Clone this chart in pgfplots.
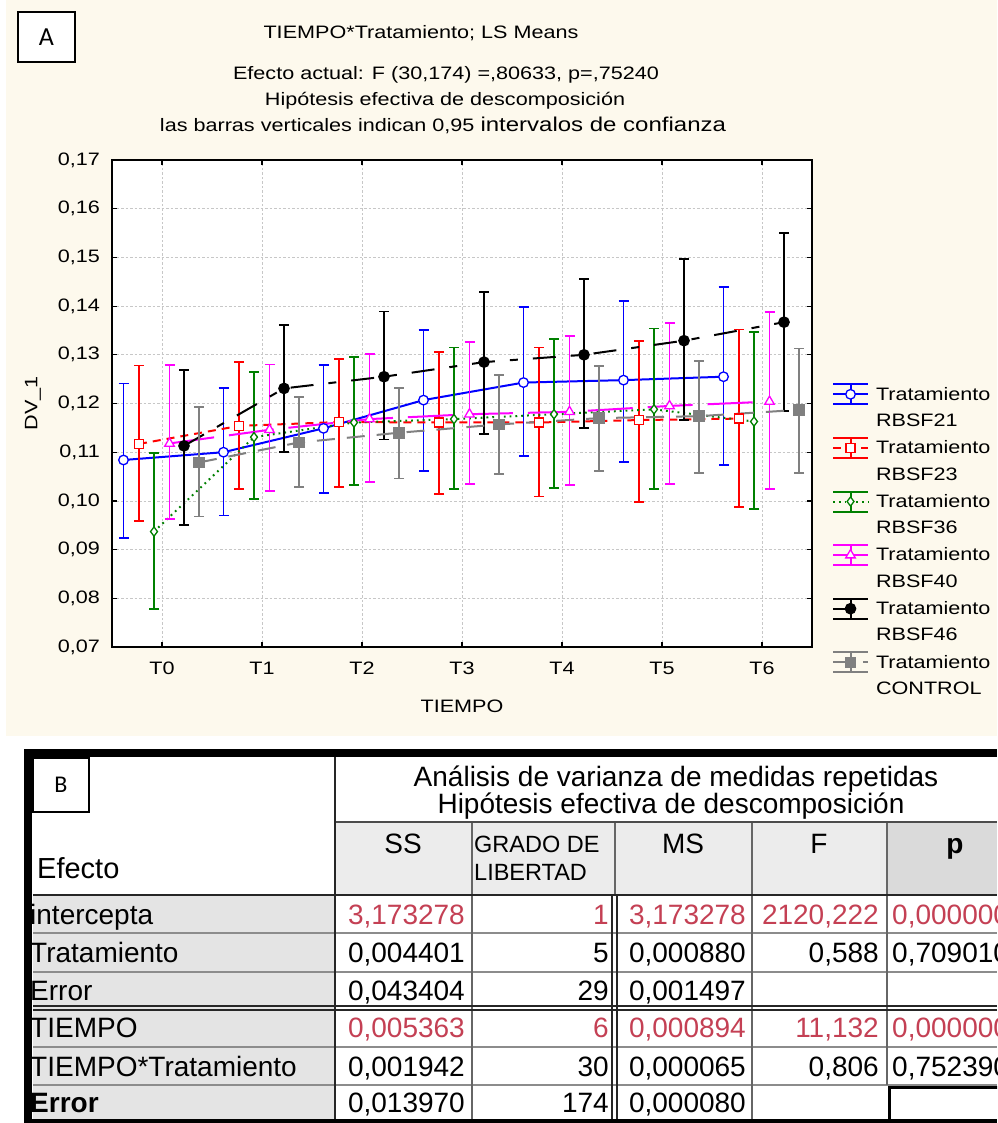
\documentclass[border=0pt]{standalone}
\usepackage{pgfplots}
\pgfplotsset{compat=1.18}
\usepackage{fontspec}
\setmainfont{Liberation Sans}
\newfontfamily\wfont[FakeStretch=1.2]{Liberation Sans}
\newfontfamily\calib{Carlito}
\definecolor{cream}{RGB}{253,249,237}
\definecolor{tred}{RGB}{196,64,84}
\definecolor{hdr}{RGB}{236,236,236}
\definecolor{phdr}{RGB}{218,218,218}
\definecolor{rowg}{RGB}{228,228,228}
\definecolor{dgreen}{RGB}{0,128,0}
\definecolor{mgray}{RGB}{128,128,128}
\definecolor{mag}{RGB}{255,0,255}
\definecolor{pblue}{RGB}{0,0,255}
\definecolor{pred}{RGB}{255,0,0}
\newcommand\cf{\wfont\fontsize{18}{26.5}\selectfont}
\newcommand\tf{\fontsize{28}{30}\selectfont}
\pgfplotsset{
 eb/.style={error bars/.cd, y dir=both, y explicit, error bar style={solid, line width=1.9pt}, error mark options={solid, rotate=90, line width=1.9pt, mark size=5pt}}
}
\begin{document}
\begin{tikzpicture}
\path[use as bounding box] (0pt,0pt) rectangle (997pt,-1123pt);
\clip (0pt,0pt) rectangle (997pt,-1123pt);
\begin{scope}[x=1pt,y=-1pt]
 \fill[white] (0,0) rectangle (997,1123);
 \fill[cream] (6,0) rectangle (997,736);
 \draw[line width=1.5pt, fill=white] (18,12) rectangle (75,62);
 \node[font=\calib\fontsize{26}{28}\selectfont, inner sep=0] at (46.5,37) {A};
 \node[anchor=base, font=\cf, inner sep=0] at (421,38.5) {TIEMPO*Tratamiento; LS Means};
 \node[anchor=base, font=\cf, inner sep=0] at (446,79.5) {Efecto actual: F (30,174) =,80633, p=,75240};
 \node[anchor=base, font=\cf, inner sep=0] at (445,105.5) {Hipótesis efectiva de descomposición};
 \node[anchor=base, font=\cf, inner sep=0] at (443,131.5) {las barras verticales indican 0,95 {\fontsize{20}{22}\selectfont intervalos de confianza}};
\end{scope}
\begin{axis}[
 at={(112pt,-647pt)}, anchor=south west,
 scale only axis, width=700pt, height=487pt,
 xmin=-0.5, xmax=6.5, ymin=0.07, ymax=0.17,
 xtick={0,1,2,3,4,5,6}, xticklabels={T0,T1,T2,T3,T4,T5,T6},
 ytick={0.07,0.08,0.09,0.10,0.11,0.12,0.13,0.14,0.15,0.16,0.17},
 yticklabels={{0,07},{0,08},{0,09},{0,10},{0,11},{0,12},{0,13},{0,14},{0,15},{0,16},{0,17}},
 tick label style={font=\cf, inner sep=0pt},
 xticklabel style={anchor=center, yshift=-21pt},
 yticklabel style={anchor=east, xshift=-12pt},
 xlabel={TIEMPO}, ylabel={DV\_1}, label style={font=\cf},
 xlabel style={at={(axis description cs:0.5,-0.121)}, anchor=center},
 ylabel style={at={(axis description cs:-0.113,0.5)}, anchor=center},
 grid=major, grid style={dash pattern=on 2.5pt off 2pt, draw=black!22, line width=0.8pt},
 axis line style={line width=2pt},
 tick style={black, line width=1.2pt}, major tick length=5pt, tick align=inside,
 axis background/.style={fill=white},
 legend cell align=left,
 legend style={at={(1.024,0.546)}, anchor=north west, draw=none, fill=none, font=\cf, row sep=31.6pt, column sep=5pt},
 legend image code/.code={
   \draw[#1, mark=none] (0pt,0pt) -- (35pt,0pt);
   \draw[#1, solid, mark=none] (0pt,10pt) -- (35pt,10pt) (0pt,-10pt) -- (35pt,-10pt) (17.5pt,-10pt) -- (17.5pt,10pt);
   \draw[#1, only marks] plot coordinates {(17.5pt,0pt)};
 },
]
\addplot[pblue, line width=2pt, mark=*, mark size=4.8pt, mark options={solid, fill=white, line width=1.3pt}, eb]
 coordinates {
 (-0.385,0.1084) += (0,0.0157) -= (0,0.0161)
 (0.615,0.1100) += (0,0.0131) -= (0,0.0130)
 (1.615,0.1149) += (0,0.0130) -= (0,0.0132)
 (2.615,0.1207) += (0,0.0144) -= (0,0.0146)
 (3.615,0.1243) += (0,0.0155) -= (0,0.0151)
 (4.615,0.1248) += (0,0.0162) -= (0,0.0168)
 (5.615,0.1255) += (0,0.0184) -= (0,0.0181)
 };
\addlegendentry{\parbox[t]{125pt}{Tratamiento\\RBSF21}}
\addplot[pred, line width=2pt, dash pattern=on 8pt off 6pt, mark=square*, mark size=4.5pt, mark options={solid, fill=white, line width=1.3pt}, eb]
 coordinates {
 (-0.23,0.1117) += (0,0.0161) -= (0,0.0158)
 (0.77,0.1154) += (0,0.0131) -= (0,0.0130)
 (1.77,0.1162) += (0,0.0129) -= (0,0.0133)
 (2.77,0.1161) += (0,0.0145) -= (0,0.0146)
 (3.77,0.1161) += (0,0.0154) -= (0,0.0152)
 (4.77,0.1166) += (0,0.0163) -= (0,0.0168)
 (5.77,0.1169) += (0,0.0183) -= (0,0.0181)
 };
\addlegendentry{\parbox[t]{125pt}{Tratamiento\\RBSF23}}
\addplot[dgreen, line width=2pt, dash pattern=on 1.8pt off 4pt, mark=diamond*, mark size=4.6pt, mark options={solid, fill=white, line width=1.3pt}, eb]
 coordinates {
 (-0.08,0.0937) += (0,0.0162) -= (0,0.0159)
 (0.92,0.1131) += (0,0.0134) -= (0,0.0127)
 (1.92,0.1161) += (0,0.0135) -= (0,0.0128)
 (2.92,0.1168) += (0,0.0147) -= (0,0.0144)
 (3.92,0.1178) += (0,0.0154) -= (0,0.0151)
 (4.92,0.1188) += (0,0.0166) -= (0,0.0164)
 (5.92,0.1163) += (0,0.0184) -= (0,0.0180)
 };
\addlegendentry{\parbox[t]{125pt}{Tratamiento\\RBSF36}}
\addplot[mag, line width=2pt, dash pattern=on 45pt off 15pt, mark=triangle*, mark size=5.5pt, mark options={solid, fill=white, line width=1.3pt}, eb]
 coordinates {
 (0.075,0.1118) += (0,0.0161) -= (0,0.0156)
 (1.075,0.1146) += (0,0.0134) -= (0,0.0126)
 (2.075,0.1168) += (0,0.0134) -= (0,0.0129)
 (3.075,0.1178) += (0,0.0148) -= (0,0.0143)
 (4.075,0.1183) += (0,0.0156) -= (0,0.0150)
 (5.075,0.1195) += (0,0.0170) -= (0,0.0160)
 (6.075,0.1204) += (0,0.0183) -= (0,0.0180)
 };
\addlegendentry{\parbox[t]{125pt}{Tratamiento\\RBSF40}}
\addplot[black, line width=2pt, dash pattern=on 23pt off 15pt on 8pt off 15pt, mark=*, mark size=4.8pt, mark options={solid, fill=black}, eb]
 coordinates {
 (0.22,0.1113) += (0,0.0156) -= (0,0.0162)
 (1.22,0.1231) += (0,0.0130) -= (0,0.0131)
 (2.22,0.1255) += (0,0.0134) -= (0,0.0129)
 (3.22,0.1285) += (0,0.0144) -= (0,0.0147)
 (4.22,0.1300) += (0,0.0156) -= (0,0.0151)
 (5.22,0.1329) += (0,0.0168) -= (0,0.0163)
 (6.22,0.1367) += (0,0.0184) -= (0,0.0182)
 };
\addlegendentry{\parbox[t]{125pt}{Tratamiento\\RBSF46}}
\addplot[mgray, line width=2pt, dash pattern=on 18pt off 12pt, mark=square*, mark size=4.8pt, mark options={solid, fill=mgray}, eb]
 coordinates {
 (0.37,0.1079) += (0,0.0114) -= (0,0.0111)
 (1.37,0.1120) += (0,0.0093) -= (0,0.0091)
 (2.37,0.1140) += (0,0.0092) -= (0,0.0094)
 (3.37,0.1157) += (0,0.0102) -= (0,0.0102)
 (4.37,0.1170) += (0,0.0107) -= (0,0.0109)
 (5.37,0.1174) += (0,0.0114) -= (0,0.0117)
 (6.37,0.1187) += (0,0.0126) -= (0,0.0130)
 };
\addlegendentry{\parbox[t]{125pt}{Tratamiento\\CONTROL}}
\end{axis}
\begin{scope}[x=1pt,y=-1pt]
 % table panel B
 \fill[white] (24,749) rectangle (997,1123);
 \fill[hdr] (335,822) rectangle (887,895);
 \fill[phdr] (887,822) rectangle (997,895);
 \fill[rowg] (33,895) rectangle (335,1120);
 \draw[black!45, line width=1.2pt] (33,933)--(997,933) (33,972)--(997,972) (33,1047)--(997,1047) (33,1085)--(997,1085);
 \draw[black!60, line width=1.2pt] (472,822)--(472,1120) (615,822)--(615,895) (752,822)--(752,1120) (887,822)--(887,1085);
 \draw[black!70, line width=1.5pt] (335,822)--(997,822);
 \draw[black!85, line width=1.8pt] (33,895)--(997,895);
 \draw[black!85, line width=2pt] (335,757)--(335,1120);
 \draw[black!85, line width=1.2pt] (612,895)--(612,1120) (617,895)--(617,1120);
 \draw[black!85, line width=1.2pt] (33,1006)--(997,1006) (33,1010)--(997,1010);
 \draw[black, line width=3pt] (889,1087) rectangle (1000,1126);
 \draw[black, line width=8pt] (28,1123)--(28,753)--(997,753);
 \draw[black, line width=4pt] (24,1121)--(997,1121);
 \draw[line width=1.5pt, fill=white] (33,758) rectangle (89,812);
 \node[font=\calib\fontsize{24}{26}\selectfont, inner sep=0] at (61,785) {B};
 % header
 \node[anchor=base, font=\tf, inner sep=0] at (676,786) {Análisis de varianza de medidas repetidas};
 \node[anchor=base, font=\tf, inner sep=0] at (671,813) {Hipótesis efectiva de descomposición};
 \node[anchor=base, font=\tf, inner sep=0] at (403,853) {SS};
 \node[anchor=base, font=\tf, inner sep=0] at (683,853) {MS};
 \node[anchor=base, font=\tf, inner sep=0] at (819,853) {F};
 \node[anchor=base, font=\tf\bfseries, inner sep=0] at (955,853) {p};
 \node[anchor=base west, font=\fontsize{23.5}{25}\selectfont, inner sep=0] at (474,852) {GRADO DE};
 \node[anchor=base west, font=\fontsize{23.5}{25}\selectfont, inner sep=0] at (474,880) {LIBERTAD};
 \node[anchor=base west, font=\fontsize{29}{31}\selectfont, inner sep=0] at (37,878) {Efecto};
 % row labels
 \node[anchor=base west, font=\tf, inner sep=0] at (30,924) {intercepta};
 \node[anchor=base west, font=\tf, inner sep=0] at (30,962.5) {Tratamiento};
 \node[anchor=base west, font=\tf, inner sep=0] at (30,1000) {Error};
 \node[anchor=base west, font=\tf, inner sep=0] at (30,1037.5) {TIEMPO};
 \node[anchor=base west, font=\tf, inner sep=0] at (30,1076) {TIEMPO*Tratamiento};
 \node[anchor=base west, font=\tf\bfseries, inner sep=0] at (30,1112.5) {Error};
 % row 1
 \node[anchor=base east, font=\tf, inner sep=0, text=tred] at (465,924) {3,173278};
 \node[anchor=base east, font=\tf, inner sep=0, text=tred] at (609,924) {1};
 \node[anchor=base east, font=\tf, inner sep=0, text=tred] at (746,924) {3,173278};
 \node[anchor=base east, font=\tf, inner sep=0, text=tred] at (879,924) {2120,222};
 \node[anchor=base west, font=\tf, inner sep=0, text=tred] at (892,924) {0,000000};
 % row 2
 \node[anchor=base east, font=\tf, inner sep=0] at (465,962.5) {0,004401};
 \node[anchor=base east, font=\tf, inner sep=0] at (609,962.5) {5};
 \node[anchor=base east, font=\tf, inner sep=0] at (746,962.5) {0,000880};
 \node[anchor=base east, font=\tf, inner sep=0] at (879,962.5) {0,588};
 \node[anchor=base west, font=\tf, inner sep=0] at (892,962.5) {0,709010};
 % row 3
 \node[anchor=base east, font=\tf, inner sep=0] at (465,1000) {0,043404};
 \node[anchor=base east, font=\tf, inner sep=0] at (609,1000) {29};
 \node[anchor=base east, font=\tf, inner sep=0] at (746,1000) {0,001497};
 % row 4
 \node[anchor=base east, font=\tf, inner sep=0, text=tred] at (465,1037.5) {0,005363};
 \node[anchor=base east, font=\tf, inner sep=0, text=tred] at (609,1037.5) {6};
 \node[anchor=base east, font=\tf, inner sep=0, text=tred] at (746,1037.5) {0,000894};
 \node[anchor=base east, font=\tf, inner sep=0, text=tred] at (879,1037.5) {11,132};
 \node[anchor=base west, font=\tf, inner sep=0, text=tred] at (892,1037.5) {0,000000};
 % row 5
 \node[anchor=base east, font=\tf, inner sep=0] at (465,1076) {0,001942};
 \node[anchor=base east, font=\tf, inner sep=0] at (609,1076) {30};
 \node[anchor=base east, font=\tf, inner sep=0] at (746,1076) {0,000065};
 \node[anchor=base east, font=\tf, inner sep=0] at (879,1076) {0,806};
 \node[anchor=base west, font=\tf, inner sep=0] at (892,1076) {0,752390};
 % row 6
 \node[anchor=base east, font=\tf, inner sep=0] at (465,1112.5) {0,013970};
 \node[anchor=base east, font=\tf, inner sep=0] at (609,1112.5) {174};
 \node[anchor=base east, font=\tf, inner sep=0] at (746,1112.5) {0,000080};
\end{scope}
\end{tikzpicture}
\end{document}
